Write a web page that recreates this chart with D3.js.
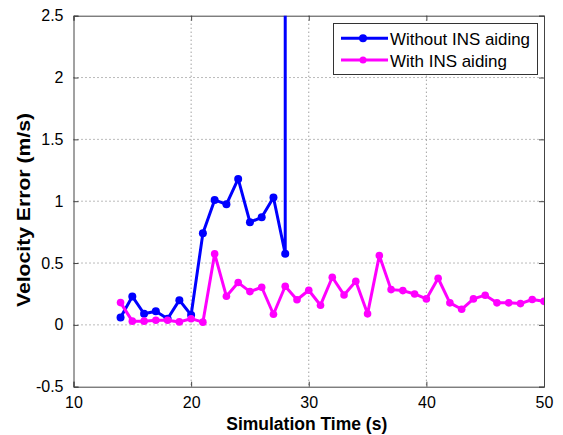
<!DOCTYPE html>
<html>
<head>
<meta charset="utf-8">
<script src="https://cdn.jsdelivr.net/npm/d3@7/dist/d3.min.js"></script>
<style>
  html, body { margin: 0; padding: 0; background: #fff; }
  svg { display: block; }
  text { font-family: "Liberation Sans", Arial, Helvetica, sans-serif; fill: #000; }
</style>
</head>
<body>
<div id="chart"></div>
<script>
// ---- data ----
const timeBlue = [14, 15, 16, 17, 18, 19, 20, 21, 22, 23, 24, 25, 26, 27, 28, 28];
const errWithout = [0.06, 0.23, 0.09, 0.11, 0.05, 0.20, 0.08, 0.74, 1.01, 0.975, 1.18, 0.83, 0.87, 1.03, 0.575, 40];
const timeMagenta = [14, 15, 16, 17, 18, 19, 20, 21, 22, 23, 24, 25, 26, 27, 28, 29, 30, 31, 32, 33, 34, 35, 36, 37, 38, 39, 40, 41, 42, 43, 44, 45, 46, 47, 48, 49, 50];
const errWith = [0.18, 0.03, 0.03, 0.037, 0.037, 0.024, 0.05, 0.022, 0.574, 0.231, 0.342, 0.269, 0.304, 0.086, 0.312, 0.203, 0.28, 0.159, 0.385, 0.242, 0.353, 0.089, 0.56, 0.285, 0.277, 0.25, 0.21, 0.377, 0.178, 0.126, 0.21, 0.24, 0.178, 0.178, 0.172, 0.205, 0.19];
const xTicks = [10, 20, 30, 40, 50];
const yTicks = [-0.5, 0, 0.5, 1, 1.5, 2, 2.5];
const yTickLabels = ["-0.5", "0", "0.5", "1", "1.5", "2", "2.5"];
const seriesNames = ["Without INS aiding", "With INS aiding"];
const seriesColors = ["#0000ff", "#ff00ff"];
const xLabel = "Simulation Time (s)";
const yLabel = "Velocity Error (m/s)";

// ---- layout ----
const W = 563, H = 435;
const L = 73.5, R = 544, T = 15.7, B = 386.7;

const svg = d3.select("#chart").append("svg").attr("width", W).attr("height", H);

const x = d3.scaleLinear().domain([10, 50]).range([L, R]);
const y = d3.scaleLinear().domain([-0.5, 2.5]).range([B, T]);

// grid
const grid = svg.append("g");
grid.selectAll("line.vx").data(xTicks.filter(d => d > 10 && d < 50)).enter().append("line")
  .attr("x1", d => x(d)).attr("x2", d => x(d)).attr("y1", T).attr("y2", B)
  .attr("stroke", "#777").attr("stroke-width", 1).attr("stroke-dasharray", "1,3");
grid.selectAll("line.hy").data(yTicks.filter(d => d > -0.5 && d < 2.5)).enter().append("line")
  .attr("y1", d => y(d)).attr("y2", d => y(d)).attr("x1", L).attr("x2", R)
  .attr("stroke", "#777").attr("stroke-width", 1).attr("stroke-dasharray", "1,3");

// axes with inward ticks
const tickLen = 5;
const xAxisB = d3.axisBottom(x).tickValues(xTicks).tickSize(-tickLen).tickPadding(tickLen + 5);
const xAxisT = d3.axisTop(x).tickValues(xTicks).tickSize(-tickLen).tickFormat("");
const yAxisL = d3.axisLeft(y).tickValues(yTicks).tickSize(-tickLen).tickPadding(tickLen + 5)
  .tickFormat((d, i) => yTickLabels[i]);
const yAxisR = d3.axisRight(y).tickValues(yTicks).tickSize(-tickLen).tickFormat("");

function styleAxis(g) {
  g.selectAll("path").attr("stroke", "#444").attr("stroke-width", 1);
  g.selectAll("line").attr("stroke", "#444").attr("stroke-width", 1);
  g.selectAll("text").style("font-size", "16px").style("font-family", '"Liberation Sans", Arial, sans-serif').attr("fill", "#000");
}
svg.append("g").attr("transform", `translate(0,${B})`).call(xAxisB).call(styleAxis);
svg.append("g").attr("transform", `translate(0,${T})`).call(xAxisT).call(styleAxis);
svg.append("g").attr("transform", `translate(${L},0)`).call(yAxisL).call(styleAxis);
svg.append("g").attr("transform", `translate(${R},0)`).call(yAxisR).call(styleAxis);

// clip
svg.append("clipPath").attr("id", "clip").append("rect")
  .attr("x", L).attr("y", T).attr("width", R - L).attr("height", B - T);

const plot = svg.append("g").attr("clip-path", "url(#clip)");
const line = d3.line().x(d => x(d[0])).y(d => y(d[1]));

const blueData = timeBlue.map((t, i) => [t, errWithout[i]]);
const magData = timeMagenta.map((t, i) => [t, errWith[i]]);

plot.append("path").datum(blueData).attr("d", line)
  .attr("fill", "none").attr("stroke", seriesColors[0]).attr("stroke-width", 3).attr("stroke-linejoin", "round");
plot.selectAll("circle.b").data(blueData).enter().append("circle")
  .attr("cx", d => x(d[0])).attr("cy", d => y(d[1])).attr("r", 4).attr("fill", seriesColors[0]);

plot.append("path").datum(magData).attr("d", line)
  .attr("fill", "none").attr("stroke", seriesColors[1]).attr("stroke-width", 3).attr("stroke-linejoin", "round");
plot.selectAll("circle.m").data(magData).enter().append("circle")
  .attr("cx", d => x(d[0])).attr("cy", d => y(d[1])).attr("r", 3.8).attr("fill", seriesColors[1]);

// axis labels
svg.append("text").attr("x", (L + R) / 2 - 2).attr("y", 430)
  .attr("text-anchor", "middle").style("font-size", "18px").style("font-weight", "bold")
  .attr("textLength", 161).attr("lengthAdjust", "spacingAndGlyphs")
  .text(xLabel);
svg.append("text").attr("transform", `translate(30,210) rotate(-90)`)
  .attr("text-anchor", "middle").style("font-size", "18px").style("font-weight", "bold")
  .attr("textLength", 194).attr("lengthAdjust", "spacingAndGlyphs")
  .text(yLabel);

// legend
const lg = svg.append("g");
lg.append("rect").attr("x", 333.5).attr("y", 23.5).attr("width", 204).attr("height", 51)
  .attr("fill", "#fff").attr("stroke", "#333").attr("stroke-width", 1);
const legY = [38.3, 60];
seriesNames.forEach((name, i) => {
  lg.append("line").attr("x1", 341).attr("x2", 388).attr("y1", legY[i]).attr("y2", legY[i])
    .attr("stroke", seriesColors[i]).attr("stroke-width", 3);
  lg.append("circle").attr("cx", 363).attr("cy", legY[i]).attr("r", i === 0 ? 4 : 3.5).attr("fill", seriesColors[i]);
  lg.append("text").attr("x", 390).attr("y", legY[i] + 6.5)
    .style("font-size", "17px").attr("textLength", i === 0 ? 140 : 117).attr("lengthAdjust", "spacingAndGlyphs")
    .text(name);
});
</script>
</body>
</html>
